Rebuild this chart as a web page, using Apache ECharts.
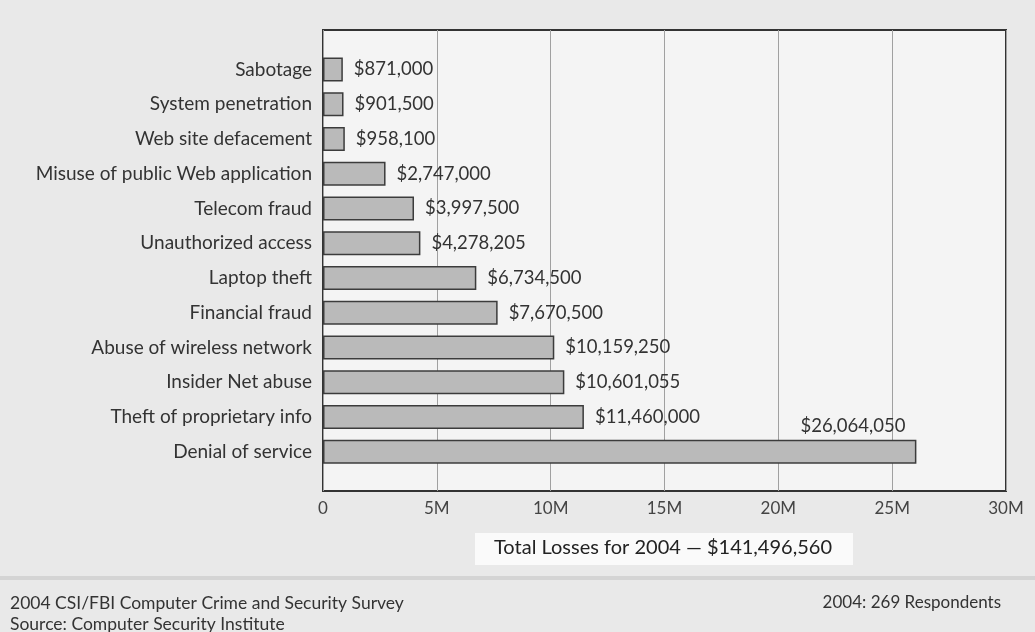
<!DOCTYPE html>
<html>
<head>
<meta charset="utf-8">
<script src="https://cdn.jsdelivr.net/npm/echarts@6/dist/echarts.min.js"></script>
<style>
  html, body { margin: 0; padding: 0; background: #e9e9e9; }
  #main_01 { width: 1035px; height: 632px; }
</style>
</head>
<body>
<div id="main_01"></div>
<script>
  // 2004 CSI/FBI survey, losses by type of attack
  let categories = ['Sabotage', 'System penetration', 'Web site defacement', 'Misuse of public Web application',
    'Telecom fraud', 'Unauthorized access', 'Laptop theft', 'Financial fraud', 'Abuse of wireless network',
    'Insider Net abuse', 'Theft of proprietary info', 'Denial of service'];
  let losses = [871000, 901500, 958100, 2747000, 3997500, 4278205, 6734500, 7670500, 10159250,
    10601055, 11460000, 26064050];
  let tickLabels = ['0', '5M', '10M', '15M', '20M', '25M', '30M'];
  let totalLoss = 141496560;

  let font = 'Lato';
  let textColor = '#333';

  function money(v) {
    return '$' + v.toString().replace(/\B(?=(\d{3})+(?!\d))/g, ',');
  }

  let chart = echarts.init(document.getElementById('main_01'));

  let barData = losses.map(function (v, i) {
    if (i === losses.length - 1) {
      // the big one has its label sitting above the bar end
      return {
        value: v,
        label: {position: ['100%', 0], align: 'right', verticalAlign: 'bottom', offset: [-11, -4]}
      };
    }
    return v;
  });

  let option = {
    backgroundColor: '#e9e9e9',
    textStyle: {fontFamily: font},
    grid: [
      // frame + gridlines
      {left: 323, right: 29, top: 30, bottom: 141, show: true, backgroundColor: '#f4f4f4',
        borderColor: '#333', borderWidth: 2},
      // bars
      {left: 323, right: 29, top: 52, bottom: 163}
    ],
    xAxis: [{
      gridIndex: 0,
      type: 'value',
      min: 0,
      max: 30000000,
      interval: 5000000,
      axisLine: {show: false},
      axisTick: {show: false},
      splitLine: {show: true, lineStyle: {color: '#a0a0a0', width: 1}},
      axisLabel: {
        color: '#444', fontSize: 17, fontFamily: font, margin: 9,
        formatter: function (v) { return tickLabels[Math.round(v / 5000000)]; }
      }
    }, {
      gridIndex: 1,
      type: 'value',
      min: 0,
      max: 30000000,
      show: false
    }],
    yAxis: [{
      gridIndex: 0,
      type: 'value',
      min: 0,
      max: 1,
      show: false
    }, {
      gridIndex: 1,
      type: 'category',
      inverse: true,
      data: categories,
      axisLine: {show: false},
      axisTick: {show: false},
      axisLabel: {color: textColor, fontSize: 19, fontFamily: font, margin: 11}
    }],
    series: [{
      type: 'bar',
      xAxisIndex: 1,
      yAxisIndex: 1,
      barWidth: 24,
      data: barData,
      itemStyle: {color: '#bababa', borderColor: '#3c3c3c', borderWidth: 1.5},
      label: {
        show: true,
        position: 'right',
        distance: 11,
        color: textColor,
        fontSize: 18.5,
        fontFamily: font,
        formatter: function (p) { return money(p.value); }
      }
    }],
    graphic: [
      {
        type: 'rect',
        shape: {x: 475, y: 533, width: 378, height: 32},
        style: {fill: '#fafafa'}
      },
      {
        type: 'text',
        x: 663, y: 548,
        style: {text: 'Total Losses for 2004 \u2014 ' + money(totalLoss), fill: '#222',
          font: '20px ' + font, textAlign: 'center', textVerticalAlign: 'middle'}
      },
      {
        type: 'rect',
        shape: {x: 0, y: 576, width: 1035, height: 4},
        style: {fill: '#d4d4d4'}
      },
      {
        type: 'text',
        x: 10, y: 603,
        style: {text: '2004 CSI/FBI Computer Crime and Security Survey', fill: '#333',
          font: '17.5px ' + font, textVerticalAlign: 'middle'}
      },
      {
        type: 'text',
        x: 10, y: 624,
        style: {text: 'Source: Computer Security Institute', fill: '#333',
          font: '17.5px ' + font, textVerticalAlign: 'middle'}
      },
      {
        type: 'text',
        x: 1001, y: 603,
        style: {text: '2004: 269 Respondents', fill: '#333',
          font: '17px ' + font, textAlign: 'right', textVerticalAlign: 'middle'}
      }
    ]
  };
  chart.setOption(option);
</script>
</body>
</html>
